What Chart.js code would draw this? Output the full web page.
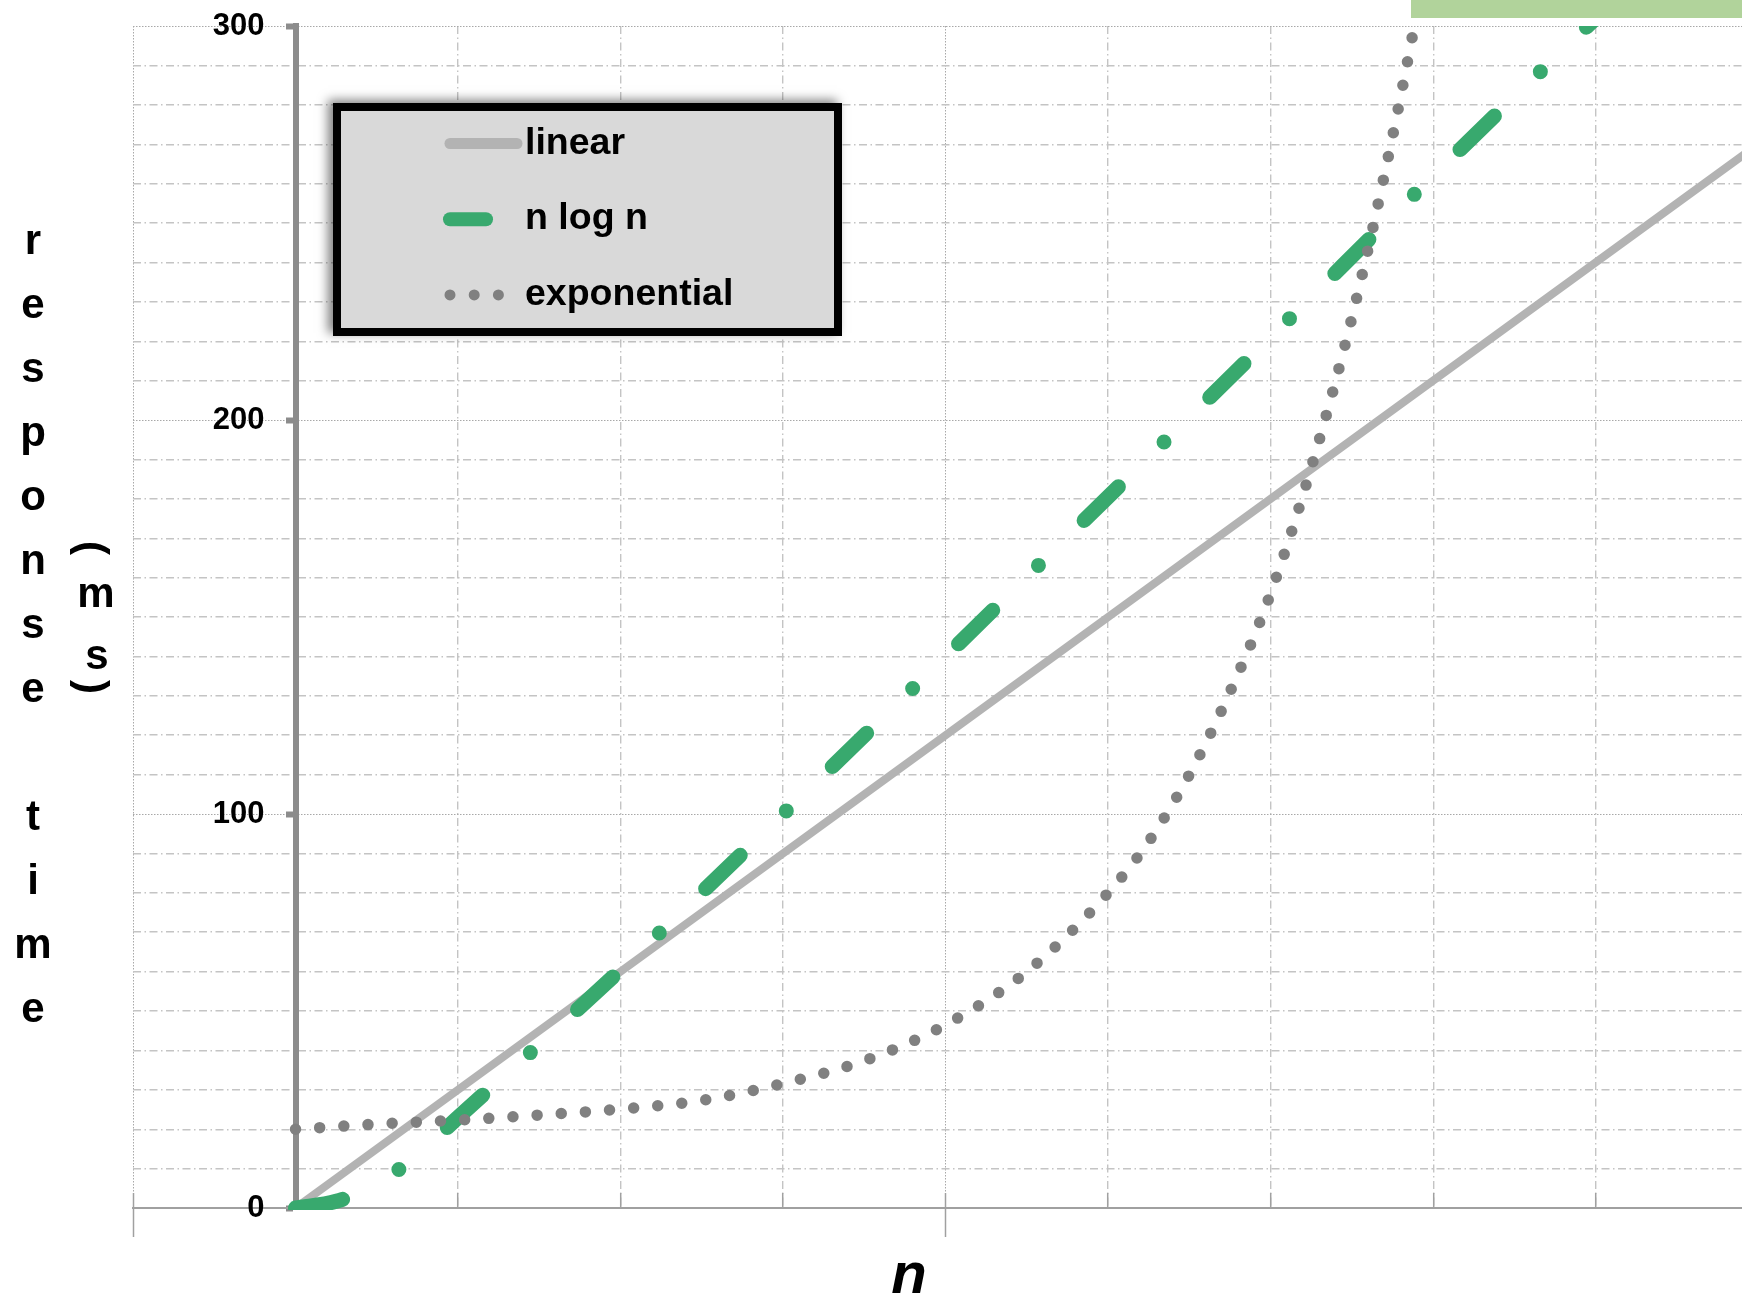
<!DOCTYPE html>
<html>
<head>
<meta charset="utf-8">
<title>response time</title>
<script src="https://cdn.jsdelivr.net/npm/chart.js@4.4.1/dist/chart.umd.min.js"></script>
<style>
  html, body { margin: 0; padding: 0; background: #ffffff; }
  #chartBox { width: 1742px; height: 1297px; }
  canvas { display: block; }
</style>
</head>
<body>
<div id="chartBox"><canvas id="growthChart" width="1742" height="1297"></canvas></div>
<script>
/*====================================
        CHART DATA
====================================*/

const xGridTicks = [-1, 0, 1, 2, 3, 4, 5, 6, 7, 8];
const xMajorTicks = [-1, 4];
const yTickLabels = [0, 100, 200, 300];

const seriesNames = ["linear", "n log n", "exponential"];

const linearN = [0, 9];
const linearTime = [0, 270];

const nlognN = [0, 0.25, 0.5, 0.75, 1, 1.5, 2, 3, 4, 5, 6, 7, 8, 8.5];
const nlognTime = [0, 1.7, 6, 13.5, 23, 41.5, 60.5, 100, 140, 180.5, 221, 262, 302, 322];

const expN = [0, 0.5, 1, 1.5, 2, 2.5, 3, 3.5, 4, 4.5, 5, 5.25, 5.5, 5.75, 6, 6.25, 6.5, 6.75, 7];
const expTime = [20, 21.3, 22.3, 23.6, 25.1, 27.3, 31.6, 37.4, 46.5, 60, 80, 93, 110, 131, 156, 188, 226, 272, 325];


/*====================================
        HELPERS
====================================*/

const FONT = "'Liberation Sans', Arial, sans-serif";

function toPoints(xs, ys){
    return xs.map((x, i) => ({x: x, y: ys[i]}));
}

function isMajorX(v){
    return xMajorTicks.includes(v);
}

function isMajorY(v){
    return yTickLabels.includes(v);
}

const DOTTED = [1.5, 1.5];
const DASH_DOT = [8, 3.5, 1.5, 3.5];


/*====================================
        DECORATION PLUGIN
====================================*/

const decorations = {

id: "decorations",

beforeDraw(chart){
    const ctx = chart.ctx;
    ctx.save();
    ctx.fillStyle = "#ffffff";
    ctx.fillRect(0, 0, chart.width, chart.height);
    ctx.restore();
},

afterDraw(chart){

    const ctx = chart.ctx;
    ctx.save();

    /* green strip at top right */
    ctx.fillStyle = "#b1d39b";
    ctx.fillRect(1411, 0, 331, 18);

    /* y title, stacked letters */
    ctx.fillStyle = "#000000";
    ctx.font = "bold 42px " + FONT;
    ctx.textAlign = "center";
    ctx.textBaseline = "alphabetic";

    const leftTitle = "response time".split("");
    leftTitle.forEach((ch, i) => {
        ctx.fillText(ch, 33, 254 + i * 64);
    });

    ctx.fillText("m", 96, 607);
    ctx.fillText("s", 97, 669);

    [["(", 548], [")", 687]].forEach(p => {
        ctx.save();
        ctx.translate(91, p[1]);
        ctx.rotate(Math.PI / 2);
        ctx.textBaseline = "middle";
        ctx.fillText(p[0], 0, 0);
        ctx.restore();
    });

    /* x title */
    ctx.font = "italic bold 58px " + FONT;
    ctx.fillText("n", 909, 1293);

    /* legend box */
    const box = {x: 337, y: 107, w: 501, h: 225};

    ctx.save();
    ctx.shadowColor = "rgba(0,0,0,0.5)";
    ctx.shadowBlur = 10;
    ctx.shadowOffsetX = -5;
    ctx.shadowOffsetY = -3;
    ctx.fillStyle = "#000000";
    ctx.fillRect(box.x - 4, box.y - 4, box.w + 8, box.h + 8);
    ctx.restore();

    ctx.fillStyle = "#d9d9d9";
    ctx.fillRect(box.x, box.y, box.w, box.h);
    ctx.lineWidth = 8;
    ctx.lineJoin = "round";
    ctx.strokeStyle = "#000000";
    ctx.strokeRect(box.x, box.y, box.w, box.h);

    const sampleLen = [67, 36, 49];
    const sampleWidth = [11, 14, 11];

    chart.data.datasets.forEach((ds, i) => {
        const y = 143.5 + i * 75.7;
        ctx.save();
        ctx.strokeStyle = ds.borderColor;
        ctx.lineWidth = sampleWidth[i];
        ctx.lineCap = "round";
        ctx.setLineDash(i === 2 ? ds.borderDash : []);
        ctx.beginPath();
        ctx.moveTo(450, y);
        ctx.lineTo(450 + sampleLen[i], y);
        ctx.stroke();
        ctx.restore();

        ctx.fillStyle = "#000000";
        ctx.font = "bold 37.5px " + FONT;
        ctx.textAlign = "left";
        ctx.textBaseline = "alphabetic";
        ctx.fillText(ds.label, 525, y + 10);
    });

    ctx.restore();
}

};


/*====================================
        CHART
====================================*/

const growthChart = new Chart(

document.getElementById("growthChart"),

{

type: "line",

data: {

datasets: [

{
    label: seriesNames[0],
    data: toPoints(linearN, linearTime),
    borderColor: "#b3b3b3",
    borderWidth: 8,
    borderCapStyle: "butt",
    pointRadius: 0,
    order: 3,
    xAxisID: "x",
    yAxisID: "y",
    clip: {left: 10, top: 0, right: 0, bottom: 0}
},

{
    label: seriesNames[1],
    data: toPoints(nlognN, nlognTime),
    borderColor: "#38a96e",
    borderWidth: 15,
    borderDash: [48, 64, 0, 64],
    borderCapStyle: "round",
    cubicInterpolationMode: "monotone",
    pointRadius: 0,
    order: 2,
    xAxisID: "x",
    yAxisID: "y",
    clip: {left: 10, top: 0, right: 0, bottom: 2}
},

{
    label: seriesNames[2],
    data: toPoints(expN, expTime),
    borderColor: "#808080",
    borderWidth: 11.5,
    borderDash: [0, 24.2],
    borderCapStyle: "round",
    cubicInterpolationMode: "monotone",
    pointRadius: 0,
    order: 1,
    xAxisID: "x",
    yAxisID: "y",
    clip: {left: 10, top: 0, right: 0, bottom: 0}
}

]

},

options: {

responsive: false,
devicePixelRatio: 1,
animation: false,

layout: {
    padding: {left: 133, top: 26, right: 0, bottom: 89}
},

plugins: {
    legend: {display: false},
    tooltip: {enabled: false}
},

scales: {

x: {
    type: "linear",
    axis: "x",
    position: {y: 0},
    min: -1,
    max: 8.9,
    afterBuildTicks: axis => {
        axis.ticks = xGridTicks.map(v => ({value: v}));
    },
    ticks: {display: false, autoSkip: false},
    grid: {
        color: c => isMajorX(c.tick.value) ? "#a8a8a8" : "#c4c4c4",
        lineWidth: c => isMajorX(c.tick.value) ? 1 : 1.4,
        tickLength: -16,
        tickWidth: 1.5,
        tickColor: "#a0a0a0"
    },
    border: {
        display: true,
        color: "#a0a0a0",
        width: 2,
        dash: c => c.tick ? (isMajorX(c.tick.value) ? DOTTED : DASH_DOT) : []
    }
},

xMajor: {
    type: "linear",
    axis: "x",
    position: {y: 0},
    min: -1,
    max: 8.9,
    afterBuildTicks: axis => {
        axis.ticks = xMajorTicks.map(v => ({value: v}));
    },
    ticks: {display: false, autoSkip: false},
    grid: {
        drawOnChartArea: false,
        tickLength: 29,
        tickWidth: 1.5,
        tickColor: "#a0a0a0"
    },
    border: {display: false}
},

y: {
    type: "linear",
    axis: "y",
    position: {x: 0},
    min: 0,
    max: 300,
    ticks: {
        stepSize: 10,
        autoSkip: false,
        color: "#000000",
        font: {family: FONT, size: 31, weight: "bold"},
        // the label sits on the axis line when the axis is placed at x = 0,
        // an em space keeps it clear of the tick stub
        callback: v => isMajorY(v) ? String(v) + "\u2003" : ""
    },
    grid: {
        color: c => isMajorY(c.tick.value) ? "#a8a8a8" : "#c4c4c4",
        lineWidth: c => isMajorY(c.tick.value) ? 1 : 1.4,
        tickLength: 7,
        tickWidth: 6,
        tickColor: c => isMajorY(c.tick.value) ? "#8c8c8c" : "rgba(0,0,0,0)"
    },
    border: {
        display: true,
        color: "#8c8c8c",
        width: 6,
        dash: c => c.tick ? (isMajorY(c.tick.value) ? DOTTED : DASH_DOT) : []
    }
}

}

},

plugins: [decorations]

});
</script>
</body>
</html>
